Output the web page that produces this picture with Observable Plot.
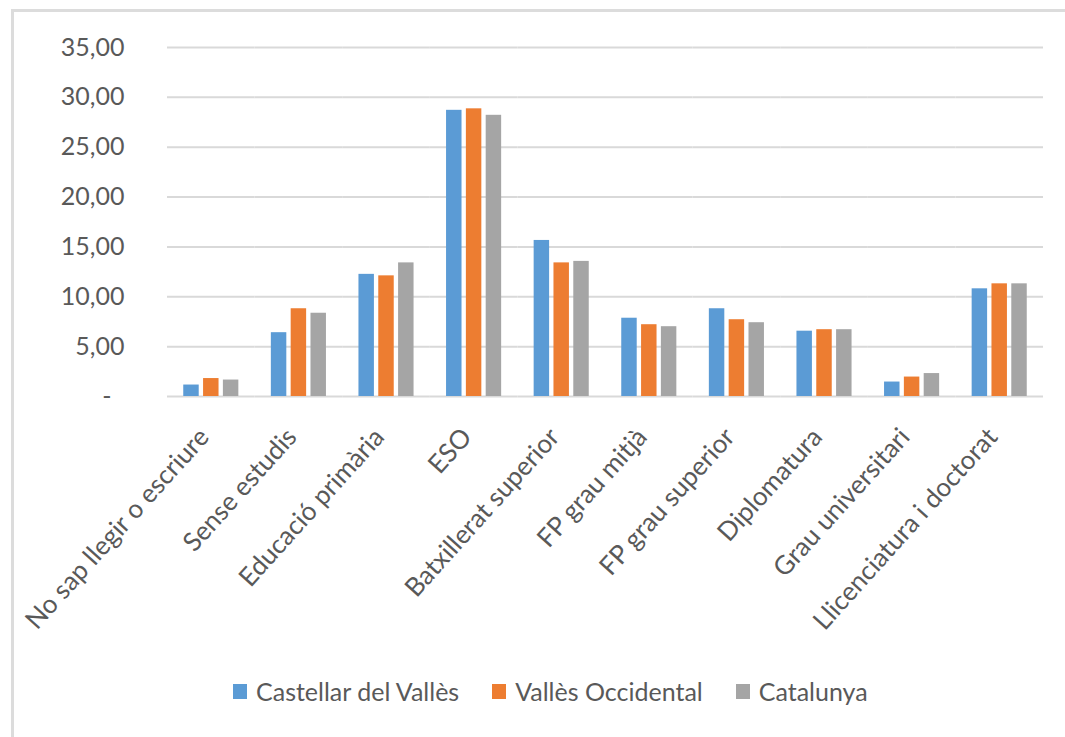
<!DOCTYPE html>
<html>
<head>
<meta charset="utf-8">
<script src="https://cdn.jsdelivr.net/npm/d3@7"></script>
<script src="https://cdn.jsdelivr.net/npm/@observablehq/plot@0.6"></script>
<style>
  html, body { margin: 0; padding: 0; background: #fff; }
  #wrap { position: relative; width: 1065px; height: 737px; overflow: hidden; font-family: Lato, "Open Sans", sans-serif; }
  #frame { position: absolute; left: 11px; top: 9px; right: -10px; bottom: -10px; border-left: 3px solid #dcdcdc; border-top: 3px solid #dcdcdc; }
  #chart { position: absolute; left: 0; top: 0; }
  #legend { position: absolute; top: 676px; left: 216.5px; display: flex; color: #595959; font-size: 25px; }
  .item { display: flex; align-items: center; margin: 0 16.5px; }
  .sw { width: 14px; height: 15px; margin-right: 9px; }
</style>
</head>
<body>
<div id="wrap">
  <div id="frame"></div>
  <div id="chart"></div>
  <div id="legend"></div>
</div>
<script>
const categories = ["No sap llegir o escriure", "Sense estudis", "Educació primària", "ESO", "Batxillerat superior", "FP grau mitjà", "FP grau superior", "Diplomatura", "Grau universitari", "Llicenciatura i doctorat"];
const seriesNames = ["Castellar del Vallès", "Vallès Occidental", "Catalunya"];
const castellar = [1.15, 6.4, 12.25, 28.7, 15.65, 7.85, 8.8, 6.55, 1.45, 10.8];
const vallesOcc = [1.8, 8.8, 12.1, 28.85, 13.4, 7.2, 7.7, 6.7, 1.95, 11.3];
const catalunya = [1.65, 8.35, 13.4, 28.2, 13.55, 7.0, 7.4, 6.7, 2.3, 11.3];
const seriesColors = ["#5b9bd5", "#ed7d31", "#a5a5a5"];
const yTicks = [0, 5, 10, 15, 20, 25, 30, 35];

const seriesValues = [castellar, vallesOcc, catalunya];
const data = [];
categories.forEach((c, i) => {
  seriesNames.forEach((s, j) => data.push({cat: c, series: s, value: seriesValues[j][i]}));
});

const fmt = d => d === 0 ? "-" : d.toFixed(2).replace(".", ",");

const chart = Plot.plot({
  width: 1065,
  height: 660,
  marginLeft: 167,
  marginRight: 22,
  marginTop: 47,
  marginBottom: 264,
  style: {fontFamily: "Lato, 'Open Sans', sans-serif", background: "transparent"},
  fx: {domain: categories, padding: 0, round: false, label: null},
  x: {domain: seriesNames, paddingInner: 0.22, paddingOuter: 0.82, round: false, axis: null},
  y: {domain: [0, 35], label: null},
  color: {domain: seriesNames, range: seriesColors},
  marks: [
    Plot.ruleY(yTicks, {stroke: "#d9d9d9", strokeWidth: 2}),
    Plot.barY(data, {fx: "cat", x: "series", y: "value", fill: "series"}),
    Plot.axisY(yTicks.filter(d => d > 0), {tickSize: 0, tickPadding: 43, tickFormat: fmt, fontSize: 25, fill: "#595959", label: null}),
    Plot.axisY([0], {tickSize: 0, tickPadding: 56, tickFormat: fmt, fontSize: 25, fill: "#595959", label: null}),
    Plot.axisFx({anchor: "bottom", tickSize: 0, tickPadding: 36, tickRotate: -48, dx: -7, fontSize: 26, fill: "#595959", label: null})
  ]
});
document.getElementById("chart").appendChild(chart);

const legend = document.getElementById("legend");
seriesNames.forEach((s, i) => {
  const item = document.createElement("div");
  item.className = "item";
  const sw = document.createElement("div");
  sw.className = "sw";
  sw.style.background = seriesColors[i];
  const t = document.createElement("span");
  t.textContent = s;
  item.appendChild(sw);
  item.appendChild(t);
  legend.appendChild(item);
});
</script>
</body>
</html>
